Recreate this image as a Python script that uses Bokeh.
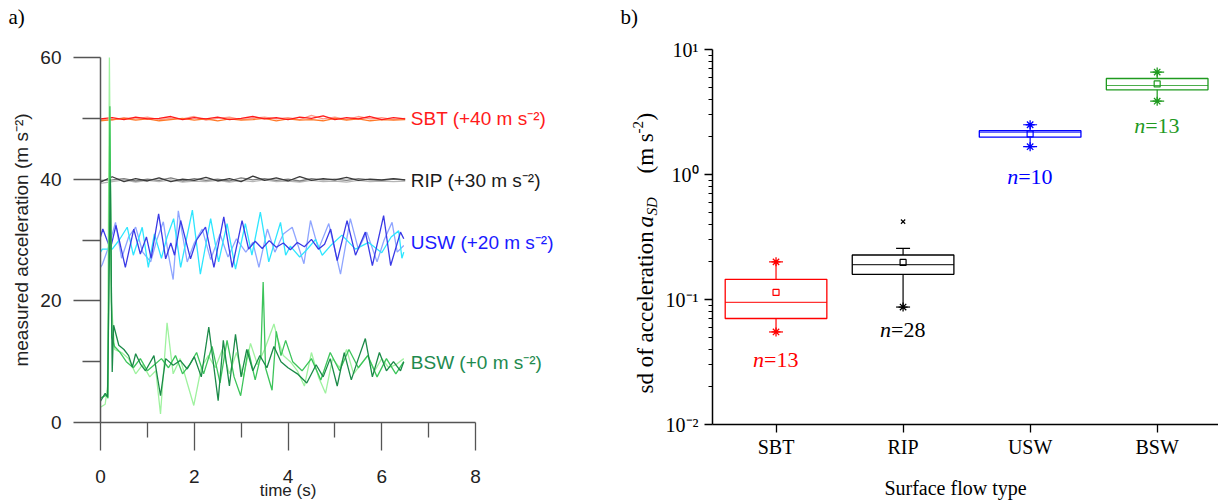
import math
from bokeh.plotting import figure
from bokeh.models import Range1d, FixedTicker, Label
from bokeh.layouts import row
from bokeh.embed import file_html
from bokeh.resources import INLINE
from bokeh.core.properties import value

# ------------------------------------------------------------------ panel a) data
T_FLAT = [0.0, 0.25, 0.5, 0.75, 1.0, 1.25, 1.5, 1.75, 2.0, 2.25, 2.5, 2.75, 3.0, 3.25,
          3.5, 3.75, 4.0, 4.25, 4.5, 4.75, 5.0, 5.25, 5.5, 5.75, 6.0, 6.25, 6.5]
SBT_A = [49.9, 50.1, 49.8, 50.2, 49.9, 50.0, 50.3, 49.8, 50.1, 49.9, 50.2, 49.8, 50.0, 50.3,
         49.9, 50.1, 49.8, 50.2, 50.0, 50.4, 49.8, 50.1, 49.9, 50.3, 49.8, 50.1, 49.9]
SBT_B = [49.6, 49.8, 50.0, 49.7, 49.9, 49.6, 49.8, 50.0, 49.7, 49.9, 49.6, 49.9, 49.7, 49.8,
         50.0, 49.6, 49.9, 49.7, 49.8, 49.6, 50.0, 49.7, 49.9, 49.6, 49.8, 49.7, 49.8]
SBT_C = [49.8, 49.7, 50.1, 49.9, 50.2, 49.8, 50.0, 49.9, 50.3, 49.7, 50.0, 50.2, 49.8, 50.0,
         50.2, 49.9, 50.1, 49.8, 50.5, 49.9, 50.2, 49.8, 50.3, 49.9, 50.1, 49.8, 50.0]
RIP_A = [39.5, 40.4, 39.6, 40.1, 39.7, 40.2, 39.6, 40.0, 39.8, 40.3, 39.7, 40.1, 39.6, 40.5,
         39.8, 40.2, 39.7, 40.4, 39.8, 40.1, 39.9, 40.3, 39.8, 40.0, 39.9, 40.1, 39.9]
RIP_B = [39.8, 39.9, 40.1, 39.7, 40.0, 39.8, 40.2, 39.7, 40.1, 39.8, 40.0, 39.7, 40.2, 39.9,
         40.1, 39.8, 40.0, 39.7, 40.1, 39.9, 40.0, 39.8, 40.1, 39.9, 39.8, 40.0, 39.9]
RIP_C = [39.3, 39.6, 39.9, 39.5, 39.8, 39.6, 39.9, 39.5, 39.7, 39.6, 39.8, 39.5, 39.8, 39.6,
         39.9, 39.6, 39.7, 39.5, 39.8, 39.6, 39.7, 39.5, 39.8, 39.6, 39.7, 39.6, 39.7]

USW_A_T = [0.0, 0.05, 0.21, 0.33, 0.53, 0.71, 0.85, 0.98, 1.08, 1.24, 1.39, 1.5, 1.58, 1.71,
           1.92, 2.05, 2.24, 2.42, 2.63, 2.81, 3.02, 3.16, 3.3, 3.45, 3.6, 3.75, 3.9, 4.05,
           4.2, 4.35, 4.5, 4.65, 4.78, 4.91, 5.05, 5.26, 5.44, 5.65, 5.8, 6.04, 6.19, 6.4, 6.47]
USW_A_V = [30.5, 31.8, 28.5, 32.4, 25.5, 31.8, 27.7, 30.5, 27.0, 34.3, 26.9, 29.5, 27.5, 33.2,
           26.9, 30.0, 32.1, 25.5, 33.8, 25.5, 33.2, 28.5, 29.8, 28.6, 29.9, 28.8, 29.5, 28.4,
           29.6, 28.9, 30.1, 28.5, 29.3, 31.8, 26.6, 33.2, 27.5, 31.3, 25.8, 34.0, 25.8, 31.3, 30.2]
USW_B_T = [0.0, 0.04, 0.18, 0.32, 0.45, 0.6, 0.75, 0.9, 1.07, 1.2, 1.34, 1.45, 1.55, 1.66,
           1.85, 2.0, 2.17, 2.35, 2.55, 2.72, 2.9, 3.1, 3.25, 3.38, 3.56, 3.72, 3.9, 4.09,
           4.34, 4.48, 4.65, 4.87, 5.12, 5.33, 5.5, 5.68, 5.9, 6.05, 6.22, 6.33, 6.47]
USW_B_V = [25.5, 26.0, 29.0, 32.9, 27.0, 30.5, 32.1, 28.0, 26.4, 30.0, 33.0, 27.5, 23.5, 34.8,
           26.4, 29.5, 31.8, 26.8, 31.0, 27.2, 30.2, 28.0, 29.6, 25.5, 31.8, 28.0, 31.0, 32.1,
           26.1, 33.2, 28.5, 32.7, 24.4, 33.5, 28.5, 31.3, 26.4, 30.0, 32.9, 28.0, 29.1]
USW_C_T = [0.0, 0.04, 0.25, 0.4, 0.57, 0.7, 0.89, 1.02, 1.15, 1.3, 1.42, 1.56, 1.71, 1.96,
           2.13, 2.35, 2.52, 2.7, 2.88, 3.09, 3.23, 3.41, 3.59, 3.84, 3.95, 4.05, 4.25, 4.4,
           4.59, 4.73, 4.9, 5.15, 5.44, 5.72, 6.0, 6.2, 6.36, 6.43, 6.47]
USW_C_V = [28.0, 28.5, 28.5, 30.0, 32.1, 27.5, 32.1, 25.5, 31.0, 27.0, 30.5, 33.5, 25.5, 34.9,
           24.4, 33.5, 26.4, 32.7, 25.2, 32.7, 27.5, 34.6, 26.4, 32.9, 27.5, 29.0, 27.2, 28.4,
           30.1, 27.5, 29.0, 30.8, 28.5, 29.6, 27.9, 30.5, 31.5, 27.0, 28.0]

BSW_A_T = [0.0, 0.1, 0.15, 0.21, 0.25, 0.28, 0.39, 0.5, 0.6, 0.68, 0.75, 0.86, 0.96, 1.14,
           1.28, 1.39, 1.55, 1.7, 1.85, 2.0, 2.15, 2.31, 2.51, 2.62, 2.75, 2.88, 3.0, 3.12,
           3.25, 3.4, 3.55, 3.7, 3.85, 4.0, 4.2, 4.4, 4.6, 4.75, 4.9, 5.05, 5.2, 5.35, 5.5,
           5.65, 5.8, 5.95, 6.1, 6.25, 6.4, 6.47]
BSW_A_V = [3.5, 4.8, 4.2, 40.0, 8.3, 16.0, 12.7, 12.0, 11.0, 9.1, 11.3, 9.5, 8.5, 11.0,
           4.4, 10.5, 9.4, 10.2, 8.8, 10.8, 7.5, 15.7, 3.6, 13.5, 6.0, 14.5, 7.5, 12.0,
           8.5, 11.0, 9.0, 12.5, 10.0, 9.0, 8.0, 6.5, 9.5, 7.5, 10.5, 6.0, 11.5, 7.0, 10.5,
           13.8, 7.5, 11.5, 8.5, 10.0, 8.5, 10.0]
BSW_B_T = [0.0, 0.12, 0.16, 0.2, 0.24, 0.3, 0.42, 0.55, 0.7, 0.85, 1.0, 1.15, 1.3, 1.45,
           1.6, 1.75, 1.9, 2.05, 2.2, 2.38, 2.55, 2.7, 2.85, 2.99, 3.15, 3.3, 3.42, 3.47,
           3.52, 3.66, 3.75, 3.85, 3.95, 4.1, 4.3, 4.5, 4.7, 4.9, 5.1, 5.3, 5.5, 5.7, 5.9,
           6.1, 6.3, 6.47]
BSW_B_V = [4.0, 4.5, 4.0, 52.0, 14.0, 12.5, 11.5, 10.0, 9.0, 10.5, 8.5, 9.5, 10.5, 9.0,
           11.0, 8.0, 9.5, 11.5, 8.0, 12.5, 6.5, 13.5, 7.5, 4.4, 12.0, 7.0, 11.0, 23.1,
           9.0, 5.3, 15.0, 11.0, 13.5, 10.0, 8.5, 10.5, 7.0, 11.5, 8.5, 12.0, 9.0, 11.0, 7.5,
           10.5, 8.0, 10.0]
BSW_C_T = [0.0, 0.1, 0.15, 0.19, 0.23, 0.3, 0.45, 0.6, 0.75, 0.9, 1.05, 1.18, 1.28, 1.42,
           1.55, 1.7, 1.85, 1.99, 2.15, 2.3, 2.45, 2.6, 2.75, 2.9, 3.05, 3.2, 3.35, 3.5,
           3.7, 3.77, 3.9, 4.05, 4.2, 4.35, 4.5, 4.65, 4.8, 4.95, 5.1, 5.25, 5.4, 5.55,
           5.7, 5.85, 6.0, 6.15, 6.3, 6.47]
BSW_C_V = [2.5, 3.0, 6.0, 60.0, 20.0, 12.0, 11.5, 10.5, 8.0, 9.5, 7.5, 8.5, 1.4, 16.4,
           8.0, 10.5, 6.5, 2.8, 9.0, 11.0, 9.0, 12.0, 8.0, 11.5, 7.5, 13.0, 9.5, 12.0,
           16.2, 14.0, 11.0, 10.0, 8.5, 6.0, 11.5, 7.5, 4.8, 10.5, 9.0, 12.0, 8.0, 9.5,
           11.0, 8.5, 10.5, 9.0, 9.5, 10.5]

SERIES_LABELS = ["SBT (+40 m s\u207b\u00b2)", "RIP (+30 m s\u207b\u00b2)",
                 "USW (+20 m s\u207b\u00b2)", "BSW (+0 m s\u207b\u00b2)"]
SERIES_LABEL_Y = [50.0, 39.8, 29.6, 9.8]
SERIES_LABEL_X = [6.62, 6.62, 6.62, 6.62]
SERIES_LABEL_COLORS = ["#ff1a1a", "#1a1a1a", "#1a1aff", "#1e8a4e"]

# ------------------------------------------------------------------ panel b) data
CATS = ["SBT", "RIP", "USW", "BSW"]
CAT_X = [1, 2, 3, 4]
Q1 = [0.0705, 0.159, 1.99, 4.76]
Q3 = [0.145, 0.227, 2.24, 5.86]
MEDIAN = [0.095, 0.19, 2.18, 5.15]
MEAN = [0.114, 0.198, 2.11, 5.3]
WHISK_LO = [0.055, 0.087, 1.67, 3.86]
WHISK_HI = [0.2, 0.256, 2.5, 6.6]
STAR_X = [1, 1, 2, 3, 3, 4, 4]
STAR_Y = [0.055, 0.2, 0.087, 1.67, 2.5, 3.86, 6.6]
STAR_COLORS = ["#ff0000", "#ff0000", "#000000", "#0000ff", "#0000ff", "#1f9a1f", "#1f9a1f"]
OUTLIER_X = [2]
OUTLIER_Y = [0.42]
N_TEXT = ["=13", "=28", "=10", "=13"]
N_Y = [0.033, 0.058, 0.97, 2.45]
BOX_COLORS = ["#ff0000", "#000000", "#0000ff", "#1f9a1f"]

SANS = "Liberation Sans"
SERIF = "Liberation Serif"

# ------------------------------------------------------------------ panel a)
# pixel geometry of panel a): t=0 at x=100, 46.875 px per s; v=0 at y=422, 6.0833 px per unit
A_X0, A_SX, A_Y0, A_SY = 100.0, 46.875, 422.0, 6.0833
ax_px = lambda px: (px - A_X0) / A_SX
ay_px = lambda py: (A_Y0 - py) / A_SY

p1 = figure(width=600, height=500, output_backend="svg", toolbar_location=None,
            title_location=None, min_border=0,
            x_range=Range1d(ax_px(0), ax_px(600)), y_range=Range1d(ay_px(500), ay_px(0)))
p1.outline_line_color = None
p1.grid.visible = False

AX_COL = "#555555"
xa = p1.xaxis[0]
ya = p1.yaxis[0]
xa.ticker = FixedTicker(ticks=[0, 2, 4, 6, 8], minor_ticks=[1, 3, 5, 7])
ya.ticker = FixedTicker(ticks=[0, 20, 40, 60], minor_ticks=[10, 30, 50])
xa.bounds = (0, 8)
ya.bounds = (0, 60)
xa.fixed_location = 0
ya.fixed_location = 0
for ax in (xa, ya):
    ax.axis_line_color = AX_COL
    ax.axis_line_width = 1.5
    ax.major_tick_line_color = AX_COL
    ax.minor_tick_line_color = AX_COL
    ax.major_tick_line_width = 1.3
    ax.minor_tick_line_width = 1.3
    ax.major_tick_in = 0
    ax.minor_tick_in = 0
    ax.major_label_text_font = SANS
    ax.major_label_text_font_size = "19px"
    ax.major_label_text_color = "#222222"
xa.major_tick_out = 28
xa.minor_tick_out = 15
xa.major_label_standoff = 19
ya.major_tick_out = 27
ya.minor_tick_out = 18
ya.major_label_standoff = 12
ya.axis_label = "measured acceleration (m s\u207b\u00b2)"
ya.axis_label_text_font = SANS
ya.axis_label_text_font_size = "19px"
ya.axis_label_text_font_style = "normal"
ya.axis_label_text_color = "#222222"
ya.axis_label_standoff = 5

LW = 1.3
p1.line(T_FLAT, SBT_C, color="#ff9a8a", line_width=LW)
p1.line(T_FLAT, SBT_B, color="#ff7a2a", line_width=LW)
p1.line(T_FLAT, SBT_A, color="#ff1a1a", line_width=LW)
p1.line(T_FLAT, RIP_C, color="#b5b5b5", line_width=LW)
p1.line(T_FLAT, RIP_B, color="#808080", line_width=LW)
p1.line(T_FLAT, RIP_A, color="#3a3a3a", line_width=LW)
p1.line(USW_B_T, USW_B_V, color="#8fa5ff", line_width=LW)
p1.line(USW_C_T, USW_C_V, color="#2ee6ff", line_width=LW)
p1.line(USW_A_T, USW_A_V, color="#3a3ae6", line_width=LW)
p1.line(BSW_C_T, BSW_C_V, color="#9ff29f", line_width=LW)
p1.line(BSW_B_T, BSW_B_V, color="#3cc45a", line_width=LW)
p1.line(BSW_A_T, BSW_A_V, color="#1b8a48", line_width=LW)

p1.text(x=SERIES_LABEL_X, y=SERIES_LABEL_Y, text=SERIES_LABELS,
        text_color=SERIES_LABEL_COLORS, text_font=value(SANS), text_font_size="19px",
        text_align="left", text_baseline="middle")

p1.add_layout(Label(x=ax_px(8), y=ay_px(16), text="a)", text_font=SERIF,
                    text_font_size="21px", text_baseline="middle", text_align="left",
                    text_color="#000000"))
p1.add_layout(Label(x=4.0, y=ay_px(490), text="time (s)", text_font=SANS,
                    text_font_size="17px", text_baseline="middle", text_align="center",
                    text_color="#222222"))

# ------------------------------------------------------------------ panel b)
# pixel geometry (local to panel b): category 0.5 at x=112, 127.05 px per category;
# log10 = 1 at y=49, 125 px per decade
B_X0, B_SX, B_Y0, B_SY = 112.0, 127.05, 49.0, 125.0
bx_px = lambda px: 0.5 + (px - B_X0) / B_SX
by_px = lambda py: 10 ** (1 - (py - B_Y0) / B_SY)

p2 = figure(width=618, height=500, output_backend="svg", toolbar_location=None,
            title_location=None, min_border=0, y_axis_type="log",
            x_range=Range1d(bx_px(0), bx_px(618)), y_range=Range1d(by_px(500), by_px(0)))
p2.outline_line_color = None
p2.grid.visible = False

bxa = p2.xaxis[0]
bya = p2.yaxis[0]
bxa.ticker = FixedTicker(ticks=CAT_X)
bxa.major_label_overrides = {x: c for x, c in zip(CAT_X, CATS)}
bxa.bounds = (0.5, bx_px(618))
bxa.fixed_location = 0.01
bya.ticker = FixedTicker(
    ticks=[0.01, 0.1, 1, 10],
    minor_ticks=[0.02, 0.03, 0.04, 0.05, 0.06, 0.07, 0.08, 0.09,
                 0.2, 0.3, 0.4, 0.5, 0.6, 0.7, 0.8, 0.9,
                 2, 3, 4, 5, 6, 7, 8, 9])
bya.major_label_overrides = {0.01: "10\u207b\u00b2", 0.1: "10\u207b\u00b9",
                             1: "10\u2070", 10: "10\u00b9"}
bya.bounds = (0.01, 10)
bya.fixed_location = 0.5
for ax in (bxa, bya):
    ax.axis_line_color = "#000000"
    ax.axis_line_width = 1.5
    ax.major_tick_line_color = "#000000"
    ax.minor_tick_line_color = "#000000"
    ax.major_tick_line_width = 1.3
    ax.minor_tick_line_width = 1.0
    ax.major_tick_in = 0
    ax.minor_tick_in = 0
    ax.major_tick_out = 8
    ax.minor_tick_out = 4
    ax.major_label_text_font = SERIF
    ax.major_label_text_font_size = "20px"
    ax.major_label_text_color = "#000000"
bxa.minor_tick_line_color = None
bxa.major_label_standoff = 3
bya.major_label_standoff = 6

BW = 0.8
CAP = 0.11
p2.vbar(x=CAT_X, width=BW, bottom=Q1, top=Q3, fill_color=None,
        line_color=BOX_COLORS, line_width=1.3)
p2.segment(x0=[x - BW / 2 for x in CAT_X], x1=[x + BW / 2 for x in CAT_X],
           y0=MEDIAN, y1=MEDIAN, line_color=BOX_COLORS, line_width=1.2, line_alpha=0.8)
p2.segment(x0=CAT_X, x1=CAT_X, y0=Q3, y1=WHISK_HI, line_color=BOX_COLORS, line_width=1.2)
p2.segment(x0=CAT_X, x1=CAT_X, y0=Q1, y1=WHISK_LO, line_color=BOX_COLORS, line_width=1.2)
p2.segment(x0=[x - CAP / 2 for x in CAT_X], x1=[x + CAP / 2 for x in CAT_X],
           y0=WHISK_HI, y1=WHISK_HI, line_color=BOX_COLORS, line_width=1.2)
p2.segment(x0=[x - CAP / 2 for x in CAT_X], x1=[x + CAP / 2 for x in CAT_X],
           y0=WHISK_LO, y1=WHISK_LO, line_color=BOX_COLORS, line_width=1.2)
p2.scatter(x=CAT_X, y=MEAN, marker="square", size=6, fill_color=None,
           line_color=BOX_COLORS, line_width=1.2)
p2.scatter(x=STAR_X, y=STAR_Y, marker="asterisk", size=9, line_color=STAR_COLORS,
           line_width=1.3)
p2.scatter(x=OUTLIER_X, y=OUTLIER_Y, marker="x", size=6, line_color="#000000", line_width=1.2)

p2.text(x=CAT_X, y=N_Y, text=["n"] * 4, text_color=BOX_COLORS, text_font=value(SERIF),
        text_font_size="22px", text_font_style="italic", text_align="right",
        text_baseline="middle", x_offset=-12)
p2.text(x=CAT_X, y=N_Y, text=N_TEXT, text_color=BOX_COLORS, text_font=value(SERIF),
        text_font_size="22px", text_align="left", text_baseline="middle", x_offset=-12)

# axis titles of panel b)
p2.add_layout(Label(x=bx_px(955 - 600), y=by_px(487), text="Surface flow type",
                    text_font=SERIF, text_font_size="20px", text_align="center",
                    text_baseline="middle", text_color="#000000"))
YT_X = bx_px(645 - 600)
YT_Y = by_px(393)
pieces = [
    ("sd of acceleration", 0, 0, "23px", "normal"),
    ("a", 166, 0, "23px", "italic"),
    ("SD", 178, 6, "15px", "italic"),
    ("(m s", 220, 0, "23px", "normal"),
    ("-2", 260, -8, "15px", "normal"),
    (")", 273, 0, "23px", "normal"),
]
for txt, off, xo, fs, st in pieces:
    p2.add_layout(Label(x=YT_X, y=YT_Y, text=txt, angle=math.pi / 2, y_offset=off,
                        x_offset=xo, text_font=SERIF, text_font_size=fs,
                        text_font_style=st, text_align="left", text_baseline="middle",
                        text_color="#000000"))

p2.add_layout(Label(x=bx_px(620 - 600), y=by_px(16), text="b)",
                    text_font=SERIF, text_font_size="21px", text_baseline="middle",
                    text_align="left", text_color="#000000"))

layout = row(p1, p2)
open("out.html", "w").write(file_html(layout, INLINE))
